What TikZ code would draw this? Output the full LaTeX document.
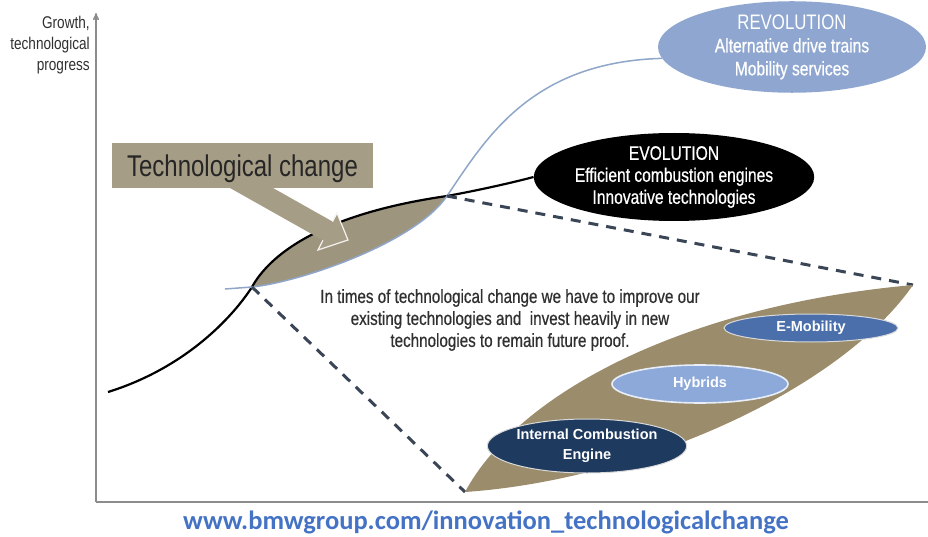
\documentclass[tikz,border=0pt]{standalone}
\usepackage{fontspec}
\setmainfont{Liberation Sans}
\newfontfamily\narrowfont[FakeStretch=0.8]{Liberation Sans}
\newfontfamily\heavyfont[FakeStretch=0.8,FakeBold=0.6]{Liberation Sans}
\newfontfamily\webfont{Carlito}
\usetikzlibrary{arrows,shapes.geometric}

\definecolor{boxtan}{HTML}{A69D86}
\definecolor{lenstan}{HTML}{9E957F}
\definecolor{fieldtan}{HTML}{9B8C6C}
\definecolor{revblue}{HTML}{8FA7D0}
\definecolor{hybblue}{HTML}{8CA9DA}
\definecolor{emoblue}{HTML}{4A6FAB}
\definecolor{icenavy}{HTML}{1E3A5F}
\definecolor{dashgrey}{HTML}{3A4556}
\definecolor{curveblue}{HTML}{8FA6C8}
\definecolor{axisgrey}{HTML}{8C8C8C}
\definecolor{linkblue}{HTML}{4472C4}
\definecolor{darktext}{HTML}{303030}

\begin{document}
\begin{tikzpicture}[x=1pt,y=-1pt,>=stealth',semithick]
  \tikzstyle{blob}=[ellipse,inner sep=0pt,align=center,text=white]
  \tikzstyle{tech}=[blob,draw=white!85!black,line width=1pt,
                    font=\bfseries\fontsize{14.5}{20}\selectfont]
  \tikzstyle{dashline}=[dashgrey,line width=3pt,dash pattern=on 10pt off 8pt]
  \tikzstyle{note}=[align=center,text=darktext,inner sep=0pt]

  \useasboundingbox (0,0) rectangle (928,537);

  % axes
  \coordinate (origin) at (96,502);
  \draw[axisgrey,line width=1.4pt,->] (origin) -- (96,13);
  \draw[axisgrey,line width=1.4pt] (origin) -- (928,502);
  \node[note,align=right,anchor=east,
        font=\narrowfont\fontsize{17}{21}\selectfont] (ylabel) at (90,45)
        {Growth,\\technological\\progress};

  % the two goals
  \node[blob,fill=revblue,minimum width=268pt,minimum height=86pt,
        font=\heavyfont\fontsize{19.5}{23}\selectfont] (rev) at (792,47)
        {{\narrowfont\fontsize{21}{25}\selectfont REVOLUTION}\\Alternative drive trains\\Mobility services};
  \node[blob,fill=black,minimum width=258pt,minimum height=88pt,
        font=\heavyfont\fontsize{19.5}{22}\selectfont] (evo) at (674,177)
        {EVOLUTION\\Efficient combustion engines\\Innovative technologies};

  \coordinate (xa) at (252,287);
  \coordinate (xb) at (447,196);

  % overlap of the curves
  \fill[lenstan] (xa) .. controls (268,258) and (315,215) .. (xb)
                      .. controls (415,243) and (300,282) .. (xa) -- cycle;

  \draw[black,line width=2.2pt] (108,392) .. controls (185,368) and (232,318) .. (xa)
        .. controls (268,258) and (315,215) .. (xb)
        .. controls (480,190) and (515,182) .. (evo.west);
  \draw[curveblue,line width=1.5pt] (225,289) -- (xa)
        .. controls (300,282) and (415,243) .. (xb)
        .. controls (485,140) and (530,62) .. (rev.185);

  % zoomed field of technologies
  \coordinate (lt) at (465,492);
  \coordinate (rt) at (913,285);
  \draw[dashline] (xa) -- (lt);
  \draw[dashline] (xb) -- (rt);
  \fill[fieldtan] (lt) .. controls (520,390) and (690,305) .. (rt)
                       .. controls (840,390) and (640,480) .. (lt) -- cycle;

  \node[tech,fill=emoblue,minimum width=174pt,minimum height=28pt] (emo) at (811,328) {E-Mobility};
  \node[tech,fill=hybblue,minimum width=176pt,minimum height=38pt,
        draw=white!80!hybblue,line width=1.6pt] (hyb) at (700,384) {Hybrids};
  \node[tech,fill=icenavy,minimum width=194pt,minimum height=54pt] (ice) at (587,446)
        {Internal Combustion\\Engine};

  \node[note,font=\heavyfont\fontsize{19}{22}\selectfont] (msg) at (510,320)
        {In times of technological change we have to improve our\\
         existing technologies and \ invest heavily in new\\
         technologies to remain future proof.};

  % call-out box with its arrow
  \fill[boxtan] (230,188) -- (273,188) -- (332.6,221.6) -- (337,213) -- (348,240)
                -- (318,250) -- (322.9,240.3) -- cycle;
  \draw[white!88!boxtan,line width=1.2pt] (332.6,221.6) -- (337,213) -- (348,240)
                -- (318,250) -- (322.9,240.3);
  \node[fill=boxtan,minimum width=261pt,minimum height=45pt,inner sep=0pt,
        text depth=0pt,text=black!85,font=\narrowfont\fontsize{30}{34}\selectfont]
        (change) at (242.5,165.5) {Technological change};

  \node[text=linkblue,font=\webfont\bfseries\fontsize{26.5}{30}\selectfont]
        (link) at (486,522) {www.bmwgroup.com/innovation\_technologicalchange};
\end{tikzpicture}
\end{document}
